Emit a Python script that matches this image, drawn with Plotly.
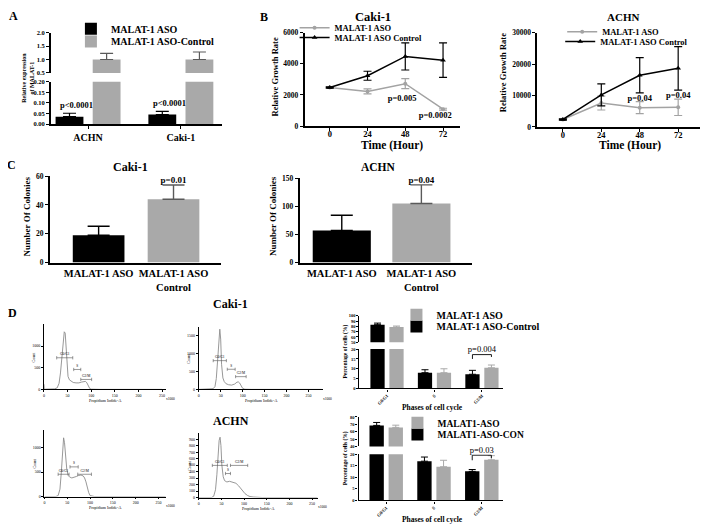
import plotly.graph_objects as go

# reference canvas size and page offset (default body margin of the html page)
W, H = 708, 532
OFF = 8
FW, FH = W - OFF, H - OFF
SERIF = "Liberation Serif"
INK = "#000000"
BAR_GREY = "#a9a9a9"
LINE_GREY = "#a3a3a3"
HIST_GREY = "#8c8c8c"
ERR_GREY = "#5a5a5a"

# ---------------- data ----------------
# Panel A: relative expression of MALAT-1
a_cells = ["ACHN", "Caki-1"]
a_aso = [0.035, 0.045]
a_aso_err = [0.016, 0.015]
a_ctrl = [1.0, 1.0]
a_ctrl_err = [0.23, 0.28]
a_p = ["p<0.0001", "p<0.0001"]

# Panel B: relative growth rate
b_hours = [0, 24, 48, 72]
b_caki_aso = [2480, 2220, 2720, 1080]
b_caki_aso_err = [40, 160, 320, 60]
b_caki_ctrl = [2470, 3230, 4470, 4230]
b_caki_ctrl_err = [40, 290, 870, 1110]
b_achn_aso = [2400, 7600, 6150, 6250]
b_achn_aso_err = [200, 2200, 1900, 2600]
b_achn_ctrl = [2400, 10200, 16450, 18650]
b_achn_ctrl_err = [200, 3500, 5600, 6900]
b_p_hours = [48, 72]
b_caki_p = ["p=0.005", "p=0.0002"]
b_achn_p = ["p=0.04", "p=0.04"]

# Panel C: number of colonies
c_groups = ["MALAT-1 ASO", "MALAT-1 ASO<br>Control"]
c_caki = [19, 44]
c_caki_err = [6.2, 9.8]
c_achn = [57, 105]
c_achn_err = [27, 33]
c_caki_p = "p=0.01"
c_achn_p = "p=0.04"

# Panel D: flow cytometry histograms (x in thousands)
h_gate_names = ["G0/G1", "S", "G2/M"]
h1_x = [0, 0.6, 3, 12, 22, 28, 32, 35, 38, 41, 43, 45, 47, 49, 51, 54, 58, 62, 68, 74, 80, 85, 88, 91, 94, 97, 100, 120, 250]
h1_count = [120, 20, 5, 8, 12, 35, 140, 380, 780, 1180, 1330, 1300, 950, 520, 300, 220, 180, 160, 150, 150, 170, 190, 185, 150, 80, 20, 5, 0, 0]
h1_gate_start = [27, 63, 78]
h1_gate_end = [61, 78, 101]
h1_gate_level = [730, 460, 230]

h2_x = [0, 25, 33, 37, 40, 43, 45, 47, 48, 50, 52, 55, 58, 62, 68, 75, 82, 87, 90, 93, 96, 100, 105, 120, 280]
h2_count = [0, 5, 20, 80, 300, 800, 1300, 1650, 1675, 1400, 700, 320, 220, 160, 130, 120, 150, 200, 210, 180, 100, 30, 5, 0, 0]
h2_gate_start = [33, 65, 84]
h2_gate_end = [63, 83, 108]
h2_gate_level = [800, 560, 355]

h3_x = [0, 25, 30, 34, 37, 40, 42, 44, 46, 49, 52, 55, 60, 65, 70, 75, 80, 85, 88, 91, 94, 97, 100, 110, 266]
h3_count = [0, 0, 20, 150, 500, 1000, 1200, 1100, 800, 550, 430, 400, 380, 390, 410, 430, 440, 420, 380, 300, 180, 80, 20, 0, 0]
h3_gate_start = [30, 56, 73]
h3_gate_end = [54, 74, 103]
h3_gate_level = [455, 606, 455]

h4_x = [0, 28, 33, 37, 40, 43, 45, 47, 49, 51, 54, 57, 62, 68, 75, 82, 88, 95, 102, 108, 113, 120, 130, 140, 262]
h4_count = [0, 0, 20, 120, 350, 700, 880, 930, 800, 500, 320, 260, 240, 250, 240, 220, 180, 120, 60, 30, 15, 8, 3, 0, 0]
h4_gate_start = [30, 59, 70]
h4_gate_end = [63, 70, 108]
h4_gate_level = [495, 370, 495]

# Panel D: percentage of cells per phase
d_phases = ["G0/G1", "S", "G2/M"]
d_caki_ctrl = [83, 8.0, 7.2]
d_caki_ctrl_err = [3.0, 1.5, 2.0]
d_caki_aso = [78.5, 8.0, 10.5]
d_caki_aso_err = [2.0, 2.0, 1.4]
d_achn_ctrl = [68.5, 17.0, 12.6]
d_achn_ctrl_err = [4.0, 1.8, 0.8]
d_achn_aso = [65.8, 14.6, 17.6]
d_achn_aso_err = [3.0, 2.8, 1.8]

# ---------------- helpers ----------------
fig = go.Figure()
layout = {}
annotations = []
shapes = []


def tf(size, bold=True, color=INK):
    return dict(family=SERIF, size=size, color=color, weight="bold" if bold else "normal")


def px(xp):
    return (xp - OFF) / FW


def py(yp):
    return 1 - (yp - OFF) / FH


def dx(a, b):
    return [px(a), px(b)]


def dy(top, bot):
    return [py(bot), py(top)]


def add_axes(i, xdom, ydom, xa=None, ya=None):
    s = "" if i == 1 else str(i)
    base = dict(showgrid=False, zeroline=False, showline=True, linecolor=INK,
                ticks="outside", tickcolor=INK)
    X = dict(base, domain=xdom, anchor="y" + s)
    X.update(xa or {})
    Y = dict(base, domain=ydom, anchor="x" + s)
    Y.update(ya or {})
    layout["xaxis" + s] = X
    layout["yaxis" + s] = Y
    return "x" + s, "y" + s


def ann(text, xp, yp, size, bold=True, angle=0, xanchor="center", yanchor="middle", color=INK):
    annotations.append(dict(text=text, x=px(xp), y=py(yp), xref="paper", yref="paper",
                            showarrow=False, font=tf(size, bold, color), textangle=angle,
                            xanchor=xanchor, yanchor=yanchor))


def label_trace(xs, ys, texts, xa, ya, size, bold=True, pos="middle center"):
    fig.add_trace(go.Scatter(x=xs, y=ys, text=texts, mode="text", textposition=pos,
                             textfont=tf(size, bold), cliponaxis=False, showlegend=False,
                             hoverinfo="skip", xaxis=xa, yaxis=ya))


def add_legend(n, text_x, yp, size):
    key = "legend" if n == 1 else "legend%d" % n
    layout[key] = dict(x=px(text_x - 40), y=py(yp), xanchor="left", yanchor="middle",
                       bgcolor="rgba(0,0,0,0)", font=tf(size), itemwidth=30, tracegroupgap=0)
    return key


def errbar(arr, color, width, thick=1.2, up_only=True):
    e = dict(type="data", array=arr, color=color, width=width, thickness=thick, visible=True)
    if up_only:
        e.update(symmetric=False, arrayminus=[0] * len(arr))
    return e


# ---------------- Panel A ----------------
ann("A", 13, 12, 12)
a_xr = [-0.40, 1.44]
xa1, ya1 = add_axes(1, dx(50, 221), dy(29, 70),
                    dict(visible=False, range=a_xr, type="category"),
                    dict(range=[0.5, 2.0], dtick=0.5, tickformat=".1f", linewidth=1.6, ticklen=3,
                         tickfont=tf(6.5)))
xa2, ya2 = add_axes(2, dx(50, 221), dy(79, 122),
                    dict(range=a_xr, type="category", linewidth=1.6, ticklen=3, tickfont=tf(10)),
                    dict(range=[0, 0.2], dtick=0.05, tickformat=".2f", linewidth=1.6, ticklen=3,
                         tickfont=tf(6.5)))
lgA1 = add_legend(1, 110, 25, 10)
lgA2 = add_legend(2, 110, 38, 10)
for xa, ya, first in [(xa1, ya1, False), (xa2, ya2, True)]:
    fig.add_trace(go.Bar(x=a_cells, y=a_aso, width=0.3, offset=-0.35, marker_color=INK,
                         marker_line_width=0, error_y=errbar(a_aso_err, INK, 6.5),
                         name="MALAT-1 ASO", legend=lgA1, showlegend=first,
                         xaxis=xa, yaxis=ya))
    fig.add_trace(go.Bar(x=a_cells, y=a_ctrl, width=0.3, offset=0.05, marker_color=BAR_GREY,
                         marker_line_width=0, error_y=errbar(a_ctrl_err, ERR_GREY, 6.5),
                         name="MALAT-1 ASO-Control", legend=lgA2, showlegend=first,
                         xaxis=xa, yaxis=ya))
for i, (v, e, p) in enumerate(zip(a_aso, a_aso_err, a_p)):
    annotations.append(dict(text=p, x=i - 0.12, y=v + e, xref=xa2, yref=ya2, showarrow=False,
                            yanchor="bottom", yshift=1, font=tf(8.5)))
ann("Relative expression<br>of MALAT-1", 27, 75, 6, angle=-90)

# ---------------- Panel B ----------------
ann("B", 263, 13, 12)
ann("Caki-1", 373, 13, 12.5)
ann("ACHN", 623, 13, 11)
b1_yr = [0, 6000]
b2_yr = [0, 30000]
xb1, yb1 = add_axes(3, dx(304, 460), dy(29, 124),
                    dict(range=[-16, 83], tickvals=b_hours, linewidth=1.5, ticklen=3,
                         ticklabelstandoff=-4, tickfont=tf(8.5)),
                    dict(range=b1_yr, dtick=2000, tickformat="d", linewidth=1.5, ticklen=3,
                         tickfont=tf(7.5)))
xb2, yb2 = add_axes(4, dx(537, 707), dy(29, 125),
                    dict(range=[-16, 90], tickvals=b_hours, linewidth=1.5, ticklen=3,
                         ticklabelstandoff=-4, tickfont=tf(8.5)),
                    dict(range=b2_yr, dtick=10000, tickformat="d", linewidth=1.5, ticklen=3,
                         tickfont=tf(7.5)))
lgB1 = add_legend(3, 334, 24, 8.5)
lgB2 = add_legend(4, 334, 34, 8.5)
lgB3 = add_legend(5, 602, 28, 8.5)
lgB4 = add_legend(6, 600, 38, 8.5)
for xa, ya, aso, asoe, ctl, ctle, l1, l2 in [
        (xb1, yb1, b_caki_aso, b_caki_aso_err, b_caki_ctrl, b_caki_ctrl_err, lgB1, lgB2),
        (xb2, yb2, b_achn_aso, b_achn_aso_err, b_achn_ctrl, b_achn_ctrl_err, lgB3, lgB4)]:
    fig.add_trace(go.Scatter(x=b_hours, y=aso, mode="lines+markers", name="MALAT-1 ASO",
                             line=dict(color=LINE_GREY, width=1.5),
                             marker=dict(symbol="circle", size=4, color=LINE_GREY),
                             error_y=errbar(asoe, LINE_GREY, 4, 1.2, up_only=False),
                             legend=l1, xaxis=xa, yaxis=ya))
    fig.add_trace(go.Scatter(x=b_hours, y=ctl, mode="lines+markers", name="MALAT-1 ASO Control",
                             line=dict(color=INK, width=1.5),
                             marker=dict(symbol="triangle-up", size=5, color=INK),
                             error_y=errbar(ctle, INK, 4, 1.2, up_only=False),
                             legend=l2, xaxis=xa, yaxis=ya))
# p-value labels placed relative to the ASO points (shift as fraction of the axis span)
b1_dx = [-2, -5]
b1_dy = [-0.16, -0.075]
b2_dx = [0, 0]
b2_dy = [0.097, 0.125]
label_trace([h + s for h, s in zip(b_p_hours, b1_dx)],
            [b_caki_aso[b_hours.index(h)] + f * b1_yr[1] for h, f in zip(b_p_hours, b1_dy)],
            b_caki_p, xb1, yb1, 8.5)
label_trace([h + s for h, s in zip(b_p_hours, b2_dx)],
            [b_achn_aso[b_hours.index(h)] + f * b2_yr[1] for h, f in zip(b_p_hours, b2_dy)],
            b_achn_p, xb2, yb2, 8.5)
ann("Relative Growth Rate", 274, 74, 8.5, angle=-90)
ann("Time (Hour)", 392, 144, 11.5)
ann("Relative Growth Rate", 503, 70, 8.5, angle=-90)
ann("Time (Hour)", 630, 144, 11.5)

# ---------------- Panel C ----------------
ann("C", 11, 164, 12)
ann("Caki-1", 130, 166, 12)
ann("ACHN", 378, 166, 11.5)
xc1, yc1 = add_axes(5, dx(49, 220), dy(175, 263),
                    dict(range=[-0.65, 1.63], type="category", linewidth=1.8, ticks="", tickfont=tf(10.5)),
                    dict(range=[0, 60], dtick=20, linewidth=1.8, ticklen=3, tickfont=tf(7.5)))
xc2, yc2 = add_axes(6, dx(299, 472), dy(177, 263),
                    dict(range=[-0.53, 1.64], type="category", linewidth=1.8, ticks="", tickfont=tf(10.5)),
                    dict(range=[0, 150], dtick=50, linewidth=1.8, ticklen=3, tickfont=tf(7.5)))
for xa, ya, vals, errs, wdt, cw, ptxt in [(xc1, yc1, c_caki, c_caki_err, 0.69, 11, c_caki_p),
                                          (xc2, yc2, c_achn, c_achn_err, 0.73, 11, c_achn_p)]:
    for i, col, ecol in [(0, INK, INK), (1, BAR_GREY, ERR_GREY)]:
        fig.add_trace(go.Bar(x=[c_groups[i]], y=[vals[i]], width=wdt, marker_color=col,
                             marker_line_width=0, error_y=errbar([errs[i]], ecol, cw, 1.4),
                             showlegend=False, xaxis=xa, yaxis=ya))
    label_trace([c_groups[1]], [vals[1] + errs[1]], [ptxt], xa, ya, 9, pos="top center")
ann("Number Of Colonies", 26, 216, 9, angle=-90)
ann("Number Of Colonies", 273, 216, 9, angle=-90)

# ---------------- Panel D: histograms ----------------
ann("D", 12, 314, 12)
ann("Caki-1", 230, 305, 12)
ann("ACHN", 230, 424, 12)
hist_specs = [
    (7, (43, 165), (325, 392), 258, 1520, [0, 500, 1000], h1_x, h1_count, h1_gate_start, h1_gate_end, h1_gate_level),
    (8, (198, 322), (328, 392), 282, 1750, [0, 500, 1000, 1500], h2_x, h2_count, h2_gate_start, h2_gate_end, h2_gate_level),
    (9, (43.5, 165), (433, 501), 266, 1366, [0, 500, 1000], h3_x, h3_count, h3_gate_start, h3_gate_end, h3_gate_level),
    (10, (198, 317), (436, 502), 262, 1000, list(range(0, 1000, 100)), h4_x, h4_count, h4_gate_start, h4_gate_end, h4_gate_level),
]
for idx, (x0, x1), (yt, yb), xmax, ymax, yticks, hx, hc, gs, ge, gl in hist_specs:
    xa, ya = add_axes(idx, dx(x0, x1), dy(yt, yb),
                      dict(range=[0, xmax], tickvals=[0, 50, 100, 150, 200, 250], linewidth=0.9,
                           ticklen=2, tickwidth=0.6, tickfont=tf(4, False)),
                      dict(range=[0, ymax], tickvals=yticks, linewidth=0.9, ticklen=2, tickwidth=0.6,
                           tickfont=tf(4, False)))
    fig.add_trace(go.Scatter(x=hx, y=hc, mode="lines", line=dict(color=HIST_GREY, width=0.9),
                             showlegend=False, xaxis=xa, yaxis=ya))
    d = 0.025 * ymax
    bx, by = [], []
    for s, e, lv in zip(gs, ge, gl):
        bx += [s, s, None, s, e, None, e, e, None]
        by += [lv - d, lv + d, None, lv, lv, None, lv - d, lv + d, None]
    fig.add_trace(go.Scatter(x=bx, y=by, mode="lines", line=dict(color="#555555", width=0.6),
                             showlegend=False, hoverinfo="skip", xaxis=xa, yaxis=ya))
    label_trace([(s + e) / 2 for s, e in zip(gs, ge)], [lv + d for lv in gl], h_gate_names,
                xa, ya, 3.5, bold=False, pos="top center")
    ann("Count", x0 - 10, (yt + yb) / 2, 4, bold=False, angle=-90)
    ann("Propidium Iodide-A", (x0 + x1) / 2, yb + 11, 4, bold=False)
    ann("x1000", x1 + 5, yb + 10, 3.5, bold=False)

# ---------------- Panel D: cell cycle bars ----------------
d_xr = [-0.58, 2.45]
seg_specs = [
    (11, 12, (359, 503), (317, 344), (351, 391), [50, 100],
     d_caki_ctrl, d_caki_ctrl_err, d_caki_aso, d_caki_aso_err,
     "MALAT-1 ASO-Control", "MALAT-1 ASO", (7, 436, 328, 10), (8, 436, 316, 10), "p=0.004", 17.2),
    (13, 14, (358, 503), (420, 450), (458, 505), [40, 80],
     d_achn_ctrl, d_achn_ctrl_err, d_achn_aso, d_achn_aso_err,
     "MALAT1-ASO-CON", "MALAT1-ASO", (9, 437, 438, 9.5), (10, 437, 426, 9.5), "p=0.03", 19.6),
]
for ti, bi, xd, ts, bs, trange, ctl, ctle, aso, asoe, nctl, naso, lc, la, ptxt, plev in seg_specs:
    lgc = add_legend(*lc)
    lga = add_legend(*la)
    xt, yt_ = add_axes(ti, dx(*xd), dy(*ts),
                       dict(visible=False, range=d_xr, type="category"),
                       dict(range=trange, dtick=10, linewidth=1.2, ticklen=2, tickwidth=0.8,
                            tickfont=tf(4.5)))
    xbm, ybm = add_axes(bi, dx(*xd), dy(*bs),
                        dict(range=d_xr, type="category", linewidth=1.2, ticklen=2, tickwidth=0.8,
                             tickangle=-45, tickfont=tf(4.5)),
                        dict(range=[0, 20], dtick=5, linewidth=1.2, ticklen=2, tickwidth=0.8,
                             tickfont=tf(4.5)))
    for xa, ya, first in [(xt, yt_, False), (xbm, ybm, True)]:
        fig.add_trace(go.Bar(x=d_phases, y=ctl, width=0.3, offset=-0.35, marker_color=INK,
                             marker_line_width=0, error_y=errbar(ctle, INK, 3.5, 1),
                             name=nctl, legend=lgc, showlegend=first, xaxis=xa, yaxis=ya))
        fig.add_trace(go.Bar(x=d_phases, y=aso, width=0.3, offset=0.05, marker_color=BAR_GREY,
                             marker_line_width=0, error_y=errbar(asoe, BAR_GREY, 3.5, 1),
                             name=naso, legend=lga, showlegend=first, xaxis=xa, yaxis=ya))
    shapes.append(dict(type="path", xref=xbm, yref=ybm,
                       path="M 1.8,%g L 1.8,%g L 2.2,%g L 2.2,%g" % (plev - 2.2, plev, plev, plev - 1.2),
                       line=dict(color=INK, width=0.9)))
    label_trace([d_phases[2]], [plev], [ptxt], xbm, ybm, 8.5, bold=False, pos="top center")
    ann("Percentage of cells (%)", 345, (ts[0] + bs[1]) / 2, 5.5, angle=-90)
    ann("Phases of cell cycle", 432, bs[1] + 19, 7.5)

layout.update(width=FW, height=FH, margin=dict(l=0, r=0, t=0, b=0), barmode="overlay",
              paper_bgcolor="white", plot_bgcolor="white", showlegend=True,
              annotations=annotations, shapes=shapes, font=dict(family=SERIF, color=INK))
fig.update_layout(**layout)
fig.write_html("out.html")
